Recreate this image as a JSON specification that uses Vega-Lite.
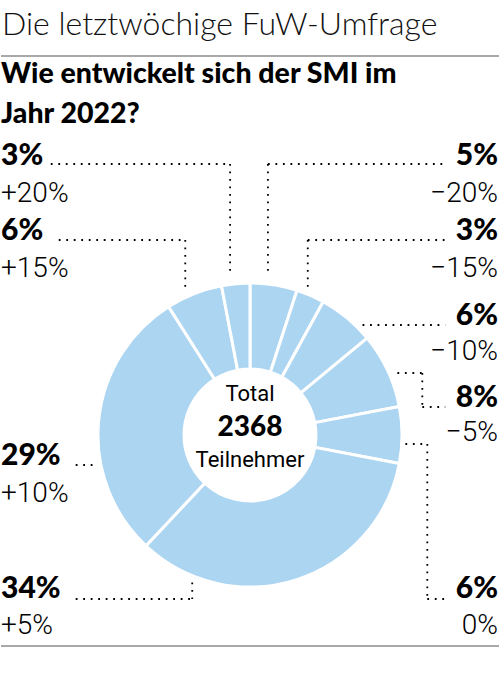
{
  "$schema": "https://vega.github.io/schema/vega-lite/v6.json",
  "width": 500,
  "height": 675,
  "autosize": {"type": "fit", "contains": "padding"},
  "padding": 0,
  "background": "white",
  "config": {"view": {"stroke": null}},
  "datasets": {
    "slices": [
      {"order": 1, "share": 0.05, "change": "−20%", "side": "R", "label_y": 165, "change_y": 202},
      {"order": 2, "share": 0.03, "change": "−15%", "side": "R", "label_y": 240, "change_y": 277},
      {"order": 3, "share": 0.06, "change": "−10%", "side": "R", "label_y": 325, "change_y": 360},
      {"order": 4, "share": 0.08, "change": "−5%", "side": "R", "label_y": 407, "change_y": 441},
      {"order": 5, "share": 0.06, "change": "0%", "side": "R", "label_y": 598, "change_y": 634},
      {"order": 6, "share": 0.34, "change": "+5%", "side": "L", "label_y": 598, "change_y": 634},
      {"order": 7, "share": 0.29, "change": "+10%", "side": "L", "label_y": 465, "change_y": 502},
      {"order": 8, "share": 0.06, "change": "+15%", "side": "L", "label_y": 240, "change_y": 277},
      {"order": 9, "share": 0.03, "change": "+20%", "side": "L", "label_y": 165, "change_y": 202}
    ],
    "leaders": [
      {"x": 50, "y": 164, "x2": 230, "y2": 164},
      {"x": 230, "y": 164, "x2": 230, "y2": 274},
      {"x": 58, "y": 240, "x2": 185, "y2": 240},
      {"x": 185, "y": 240, "x2": 185, "y2": 288},
      {"x": 75, "y": 465, "x2": 97, "y2": 465},
      {"x": 75, "y": 599, "x2": 192, "y2": 599},
      {"x": 192, "y": 575, "x2": 192, "y2": 599},
      {"x": 268, "y": 164, "x2": 446, "y2": 164},
      {"x": 268, "y": 164, "x2": 268, "y2": 274},
      {"x": 308, "y": 240, "x2": 446, "y2": 240},
      {"x": 308, "y": 240, "x2": 308, "y2": 288},
      {"x": 363, "y": 325, "x2": 446, "y2": 325},
      {"x": 398, "y": 373, "x2": 423, "y2": 373},
      {"x": 423, "y": 373, "x2": 423, "y2": 407},
      {"x": 423, "y": 407, "x2": 446, "y2": 407},
      {"x": 406, "y": 444, "x2": 428, "y2": 444},
      {"x": 428, "y": 444, "x2": 428, "y2": 599},
      {"x": 428, "y": 599, "x2": 446, "y2": 599}
    ],
    "rules": [{"y": 56}, {"y": 646}],
    "headline": [{"text": "Die letztwöchige FuW-Umfrage", "y": 35}],
    "question": [
      {"text": "Wie entwickelt sich der SMI im", "y": 83},
      {"text": "Jahr 2022?", "y": 123}
    ],
    "center": [
      {"kind": "small", "text": "Total", "y": 401},
      {"kind": "big", "text": "2368", "y": 436},
      {"kind": "small", "text": "Teilnehmer", "y": 467}
    ]
  },
  "layer": [
    {
      "data": {"name": "rules"},
      "mark": {"type": "rule", "color": "#8c8c8c", "strokeWidth": 1.5},
      "encoding": {
        "x": {"datum": 0, "type": "quantitative", "scale": {"domain": [0, 500], "nice": false, "zero": false}, "axis": null},
        "x2": {"datum": 500},
        "y": {"field": "y", "type": "quantitative", "scale": {"domain": [0, 675], "nice": false, "zero": false, "reverse": true}, "axis": null}
      }
    },
    {
      "data": {"name": "headline"},
      "mark": {"type": "text", "align": "left", "baseline": "alphabetic", "font": "Lato", "fontWeight": 300, "fontSize": 32, "color": "#111111"},
      "encoding": {
        "x": {"datum": 1, "type": "quantitative", "axis": null},
        "y": {"field": "y", "type": "quantitative", "axis": null},
        "text": {"field": "text"}
      }
    },
    {
      "data": {"name": "question"},
      "mark": {"type": "text", "align": "left", "baseline": "alphabetic", "font": "Lato", "fontWeight": 900, "fontSize": 28.5, "color": "#000000"},
      "encoding": {
        "x": {"datum": 0, "type": "quantitative", "axis": null},
        "y": {"field": "y", "type": "quantitative", "axis": null},
        "text": {"field": "text"}
      }
    },
    {
      "data": {"name": "leaders"},
      "mark": {"type": "rule", "color": "#000000", "strokeWidth": 1.8, "strokeDash": [1.8, 5.7]},
      "encoding": {
        "x": {"field": "x", "type": "quantitative", "axis": null},
        "x2": {"field": "x2"},
        "y": {"field": "y", "type": "quantitative", "axis": null},
        "y2": {"field": "y2"}
      }
    },
    {
      "data": {"name": "slices"},
      "mark": {"type": "arc", "outerRadius": 152, "innerRadius": 66, "stroke": "white", "strokeWidth": 3, "color": "#acd5f2"},
      "encoding": {
        "x": {"datum": 250, "type": "quantitative", "axis": null},
        "y": {"datum": 435, "type": "quantitative", "axis": null},
        "theta": {"field": "share", "type": "quantitative", "stack": true},
        "order": {"field": "order", "type": "quantitative"}
      }
    },
    {
      "data": {"name": "slices"},
      "transform": [{"filter": "datum.side === 'L'"}],
      "mark": {"type": "text", "align": "left", "baseline": "alphabetic", "font": "Lato", "fontWeight": 900, "fontSize": 30, "color": "#000000"},
      "encoding": {
        "x": {"datum": 0, "type": "quantitative", "axis": null},
        "y": {"field": "label_y", "type": "quantitative", "axis": null},
        "text": {"field": "share", "type": "quantitative", "format": ".0%"}
      }
    },
    {
      "data": {"name": "slices"},
      "transform": [{"filter": "datum.side === 'L'"}],
      "mark": {"type": "text", "align": "left", "baseline": "alphabetic", "font": "Roboto", "fontWeight": 300, "fontSize": 28, "color": "#000000"},
      "encoding": {
        "x": {"datum": 0, "type": "quantitative", "axis": null},
        "y": {"field": "change_y", "type": "quantitative", "axis": null},
        "text": {"field": "change"}
      }
    },
    {
      "data": {"name": "slices"},
      "transform": [{"filter": "datum.side === 'R'"}],
      "mark": {"type": "text", "align": "right", "baseline": "alphabetic", "font": "Lato", "fontWeight": 900, "fontSize": 30, "color": "#000000"},
      "encoding": {
        "x": {"datum": 499, "type": "quantitative", "axis": null},
        "y": {"field": "label_y", "type": "quantitative", "axis": null},
        "text": {"field": "share", "type": "quantitative", "format": ".0%"}
      }
    },
    {
      "data": {"name": "slices"},
      "transform": [{"filter": "datum.side === 'R'"}],
      "mark": {"type": "text", "align": "right", "baseline": "alphabetic", "font": "Roboto", "fontWeight": 300, "fontSize": 28, "color": "#000000"},
      "encoding": {
        "x": {"datum": 499, "type": "quantitative", "axis": null},
        "y": {"field": "change_y", "type": "quantitative", "axis": null},
        "text": {"field": "change"}
      }
    },
    {
      "data": {"name": "center"},
      "transform": [{"filter": "datum.kind === 'small'"}],
      "mark": {"type": "text", "align": "center", "baseline": "alphabetic", "font": "Roboto", "fontSize": 22, "color": "#000000"},
      "encoding": {
        "x": {"datum": 250, "type": "quantitative", "axis": null},
        "y": {"field": "y", "type": "quantitative", "axis": null},
        "text": {"field": "text"}
      }
    },
    {
      "data": {"name": "center"},
      "transform": [{"filter": "datum.kind === 'big'"}],
      "mark": {"type": "text", "align": "center", "baseline": "alphabetic", "font": "Lato", "fontWeight": 900, "fontSize": 28, "color": "#000000"},
      "encoding": {
        "x": {"datum": 250, "type": "quantitative", "axis": null},
        "y": {"field": "y", "type": "quantitative", "axis": null},
        "text": {"field": "text"}
      }
    }
  ]
}
